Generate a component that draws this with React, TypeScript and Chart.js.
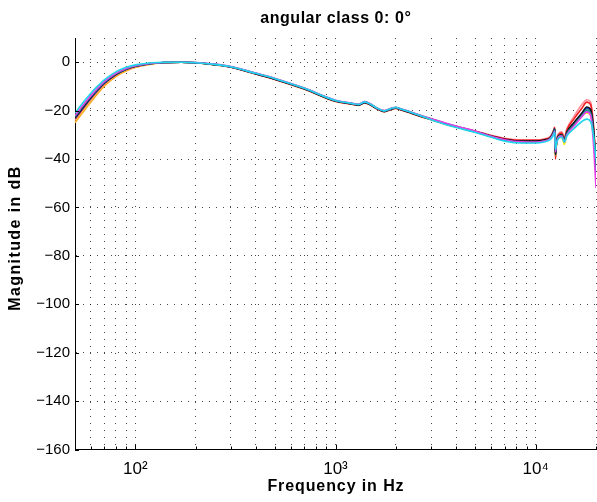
import React, { useEffect, useRef } from "react";
import { Chart, registerables } from "chart.js";

Chart.register(...registerables);

const TITLE = "angular class 0: 0°";
const X_TITLE = "Frequency in Hz";
const Y_TITLE = "Magnitude in dB";

const FREQS = [
  50, 55, 60, 65, 70, 80, 90, 100, 120, 140, 170, 200, 250, 300, 400, 500, 700,
  1000, 1200, 1300, 1400, 1500, 1600, 1750, 1900, 2000, 2100, 2300, 2600, 3000,
  3500, 4000, 5000, 6000, 7000, 8500, 10000, 11000, 11800, 12200, 12450, 12550,
  12700, 13000, 13500, 13900, 14300, 15500, 17000, 18000, 18800, 19400, 20000,
];

const GRID_FREQS = [
  50, 60, 70, 80, 90, 100, 200, 300, 400, 500, 600, 700, 800, 900, 1000, 2000,
  3000, 4000, 5000, 6000, 7000, 8000, 9000, 10000, 20000,
];
const DECADE_LABELS: Record<number, string> = { 100: "10²", 1000: "10³", 10000: "10⁴" };
const Y_TICKS = [-160, -140, -120, -100, -80, -60, -40, -20, 0];

const CYAN_DB = [-21, -16.5, -12.8, -9.8, -7.3, -4, -2.1, -1.1, -0.2, 0, 0, -0.2, -0.9, -1.9, -4.6, -6.8, -10.8, -15.8, -17, -17.5, -16.4, -17.4, -18.8, -20.1, -19.1, -18.7, -19.2, -20.3, -21.8, -23.8, -25.6, -27, -29, -31, -32.6, -33.4, -33.4, -33, -32, -30.5, -29, -36, -33.5, -31.5, -31, -33, -30.5, -27.5, -24.5, -23.5, -24.5, -30, -40];
const MAGENTA_DB = [-22, -17.6, -13.8, -10.6, -8, -4.6, -2.6, -1.5, -0.4, -0.1, 0, -0.1, -0.8, -1.8, -4.5, -6.7, -10.7, -15.7, -16.9, -17.4, -16.3, -17.3, -18.8, -20, -19, -18.7, -19.2, -20.2, -21.7, -23.4, -25, -26.4, -28.5, -30.6, -32, -32.9, -33, -32.6, -31.7, -30, -28.5, -37, -33.5, -31, -30.5, -33, -30, -26.5, -22.5, -20.5, -22, -33, -52];
const TEAL_DB = [-22.5, -18, -14.2, -11, -8.3, -4.8, -2.8, -1.6, -0.5, -0.1, 0, -0.1, -0.9, -1.9, -4.6, -6.8, -10.8, -15.8, -17, -17.5, -16.3, -17.4, -18.8, -20.1, -19, -18.6, -19.1, -20.2, -21.7, -23.4, -25.1, -26.5, -28.7, -30.8, -32.3, -33.1, -33.1, -32.6, -31.6, -29.8, -28, -37, -33.2, -30.8, -30.3, -32.5, -29.5, -26, -22, -20, -21, -29, -44];
const BLACK_DB = [-23, -18.5, -14.6, -11.3, -8.6, -5, -2.9, -1.7, -0.5, -0.1, 0, -0.2, -1, -2, -4.8, -7, -11, -16, -17.2, -17.7, -16.6, -17.6, -19, -20.3, -19.3, -18.9, -19.4, -20.5, -22, -23.6, -25.3, -26.6, -28.6, -30.5, -31.8, -32.6, -32.6, -32.2, -31.3, -29.5, -27.6, -38, -33, -30.5, -30, -32.2, -29, -25, -21, -18.5, -19.5, -27, -42];
const BLUE_DB = [-23.2, -18.7, -14.8, -11.5, -8.7, -5.1, -2.9, -1.7, -0.5, -0.1, 0, -0.2, -1, -2, -4.8, -7, -11, -16, -17.2, -17.7, -16.6, -17.6, -19, -20.3, -19.3, -18.9, -19.4, -20.5, -22, -23.6, -25.3, -26.7, -28.7, -30.7, -32.1, -32.8, -32.8, -32.4, -31.4, -29.4, -27.4, -38, -33.2, -30.6, -30.1, -32.3, -29.2, -25.2, -21.2, -19, -20, -27.5, -46];
const GREEN_DB = [-22.8, -18.3, -14.4, -11.1, -8.4, -4.9, -2.8, -1.6, -0.5, -0.1, 0, -0.2, -1, -1.9, -4.7, -6.9, -10.9, -15.9, -17.1, -17.6, -16.5, -17.5, -18.9, -20.2, -19.2, -18.8, -19.3, -20.4, -21.9, -23.5, -25.2, -26.6, -28.6, -30.6, -32, -32.8, -32.8, -32.4, -31.4, -29.5, -27.5, -38.5, -33, -30.5, -30, -32, -29, -25.5, -21.5, -19.5, -20.5, -29, -45];
const RED_DB = [-23.5, -19, -15, -11.7, -8.9, -5.2, -3, -1.8, -0.6, -0.1, 0, -0.2, -1, -2, -4.9, -7.1, -11.1, -16.1, -17.3, -17.8, -16.7, -17.7, -19.1, -20.4, -19.4, -19, -19.5, -20.6, -22.1, -23.7, -25.4, -26.7, -28.6, -30.4, -31.6, -32.3, -32.3, -31.9, -31, -29, -27, -40, -33, -30, -29.3, -31.5, -28, -23.5, -19, -16.5, -17.5, -26, -43];
const PINK_DB = [-23.8, -19.3, -15.3, -11.9, -9.1, -5.3, -3.1, -1.9, -0.6, -0.1, 0, -0.2, -1, -2.1, -4.9, -7.1, -11.1, -16.1, -17.3, -17.8, -16.7, -17.7, -19.1, -20.4, -19.4, -19, -19.5, -20.6, -22.1, -23.6, -25.3, -26.6, -28.4, -30.2, -31.4, -32.1, -32.1, -31.7, -30.7, -28.7, -26.8, -39, -32.5, -29.5, -28.8, -31, -27.5, -22.5, -17.5, -15.5, -16.5, -25, -41];
const YELLOW_DB = [-24, -19.6, -15.5, -12.1, -9.2, -5.4, -3.2, -1.9, -0.6, -0.2, 0, -0.2, -1, -2, -4.8, -7, -11, -16, -17.2, -17.7, -16.6, -17.6, -19, -20.3, -19.3, -18.9, -19.4, -20.5, -22, -23.5, -25.2, -26.6, -28.8, -30.8, -32.2, -33, -33, -32.5, -31.5, -29.3, -27, -39, -34, -31.5, -31, -34, -30, -26, -22, -21, -22, -28, -40];
const ORANGE_DB = [-25, -20.5, -16.4, -12.9, -9.9, -5.9, -3.6, -2.2, -0.8, -0.2, 0, -0.2, -1.1, -2.1, -4.9, -7.2, -11.2, -16.2, -17.4, -17.9, -16.8, -17.8, -19.2, -20.5, -19.5, -19.1, -19.6, -20.7, -22.2, -23.8, -25.5, -26.8, -28.8, -30.6, -31.9, -32.7, -32.7, -32.3, -31.4, -29.6, -27.8, -38.5, -33.5, -30.8, -30.2, -32.5, -29.3, -25.5, -21.5, -19.5, -20.5, -28, -43];

const SERIES: { name: string; color: string; values: number[] }[] = [
  { name: "cyan", color: "#1fd6ea", values: CYAN_DB },
  { name: "magenta", color: "#e83ce8", values: MAGENTA_DB },
  { name: "teal", color: "#14908f", values: TEAL_DB },
  { name: "black", color: "#111111", values: BLACK_DB },
  { name: "blue", color: "#2a3cf0", values: BLUE_DB },
  { name: "green", color: "#36e036", values: GREEN_DB },
  { name: "red", color: "#f01c1c", values: RED_DB },
  { name: "pink", color: "#ff8c9c", values: PINK_DB },
  { name: "yellow", color: "#ecec10", values: YELLOW_DB },
  { name: "orange", color: "#ffaa22", values: ORANGE_DB },
];

const FONT_FAMILY = "'Liberation Sans', Arial, Helvetica, sans-serif";
const GRID_COLOR = "rgba(0,0,0,0.72)";

// extra letter spacing (px) and shift along the text for the wide bold labels
const LETTER_SPACING: Record<string, number> = {
  [TITLE]: 0.55,
  [X_TITLE]: 0.9,
  [Y_TITLE]: 1.4,
};
const TEXT_SHIFT: Record<string, number> = {
  [Y_TITLE]: 5,
};

const inwardTicks = {
  id: "inwardTicks",
  afterDraw(chart: any) {
    const { ctx, chartArea, scales } = chart;
    ctx.save();
    ctx.strokeStyle = "#000";
    ctx.lineWidth = 1;
    ctx.beginPath();
    for (const f of GRID_FREQS) {
      const x = Math.round(scales.x.getPixelForValue(f)) + 0.5;
      const len = DECADE_LABELS[f] ? 5 : 3;
      ctx.moveTo(x, chartArea.bottom);
      ctx.lineTo(x, chartArea.bottom - len);
    }
    for (const v of Y_TICKS) {
      const y = Math.round(scales.y.getPixelForValue(v)) + 0.5;
      ctx.moveTo(chartArea.left, y);
      ctx.lineTo(chartArea.left + 4, y);
    }
    ctx.stroke();
    ctx.restore();
  },
};

export default function App() {
  const canvasRef = useRef<HTMLCanvasElement | null>(null);

  useEffect(() => {
    document.body.style.margin = "0";
    const canvas = canvasRef.current;
    if (!canvas) return;
    Chart.defaults.font.family = FONT_FAMILY;
    Chart.defaults.color = "#000";

    const ctx2d = canvas.getContext("2d") as any;
    const origFill = ctx2d.fillText;
    ctx2d.fillText = function (text: string, x: number, y: number, maxWidth?: number) {
      const sp = LETTER_SPACING[text];
      if (sp && "letterSpacing" in ctx2d) {
        const prev = ctx2d.letterSpacing;
        ctx2d.letterSpacing = sp + "px";
        const dx = (ctx2d.textAlign === "center" ? sp / 2 : 0) + (TEXT_SHIFT[text] || 0);
        origFill.call(ctx2d, text, x + dx, y);
        ctx2d.letterSpacing = prev;
        return;
      }
      if (maxWidth === undefined) origFill.call(ctx2d, text, x, y);
      else origFill.call(ctx2d, text, x, y, maxWidth);
    };

    const chart = new Chart(canvas, {
      type: "line",
      data: {
        datasets: SERIES.map((s) => ({
          label: s.name,
          data: FREQS.map((f, i) => ({ x: f, y: s.values[i] })),
          borderColor: s.color,
          backgroundColor: s.color,
          borderWidth: 1.6,
          pointRadius: 0,
          fill: false,
          cubicInterpolationMode: "monotone" as const,
        })),
      },
      options: {
        responsive: false,
        animation: false,
        events: [],
        layout: { padding: { left: 0, right: 1, top: 0, bottom: 0 } },
        plugins: {
          legend: { display: false },
          tooltip: { enabled: false },
          title: {
            display: true,
            text: TITLE,
            fullSize: false,
            color: "#000",
            font: { size: 16, weight: "bold", family: FONT_FAMILY },
            padding: { top: 8.7, bottom: 10.1 },
          },
        },
        scales: {
          x: {
            type: "logarithmic",
            min: 50,
            max: 20000,
            afterBuildTicks: (scale: any) => {
              scale.ticks = GRID_FREQS.map((v) => ({ value: v }));
            },
            afterFit: (scale: any) => {
              scale.height = 52.5;
              scale.paddingLeft = 0;
              scale.paddingRight = 0;
            },
            ticks: {
              autoSkip: false,
              maxRotation: 0,
              minRotation: 0,
              padding: 10,
              color: "#000",
              font: { size: 17, family: FONT_FAMILY },
              callback: (v: any) => DECADE_LABELS[Number(v)] ?? "",
            },
            grid: {
              color: GRID_COLOR,
              lineWidth: 1,
              drawTicks: false,
            },
            border: { display: true, color: "#000", width: 1, dash: [1, 6] },
            title: {
              display: true,
              text: X_TITLE,
              color: "#000",
              font: { size: 16, weight: "bold", family: FONT_FAMILY },
              padding: { top: 0, bottom: 5.7 },
            },
          },
          y: {
            type: "linear",
            min: -160,
            max: 10,
            afterBuildTicks: (scale: any) => {
              scale.ticks = Y_TICKS.map((v) => ({ value: v }));
            },
            afterFit: (scale: any) => {
              scale.width = 75;
              scale.paddingTop = 0;
              scale.paddingBottom = 0;
            },
            ticks: {
              padding: 5,
              color: "#000",
              font: { size: 15, family: FONT_FAMILY },
              callback: (v: any) => (Number(v) < 0 ? "\u2212" + Math.abs(Number(v)) : String(v)),
            },
            grid: {
              color: GRID_COLOR,
              lineWidth: 1,
              drawTicks: false,
            },
            border: { display: true, color: "#000", width: 1, dash: [1, 6] },
            title: {
              display: true,
              text: Y_TITLE,
              color: "#000",
              font: { size: 16, weight: "bold", family: FONT_FAMILY },
              padding: { top: 5.9, bottom: 0 },
            },
          },
        },
      },
      plugins: [inwardTicks],
    });

    return () => {
      chart.destroy();
      ctx2d.fillText = origFill;
    };
  }, []);

  return (
    <div style={{ width: 597, height: 502, background: "#fff" }}>
      <canvas ref={canvasRef} width={597} height={502} style={{ display: "block" }} />
    </div>
  );
}
